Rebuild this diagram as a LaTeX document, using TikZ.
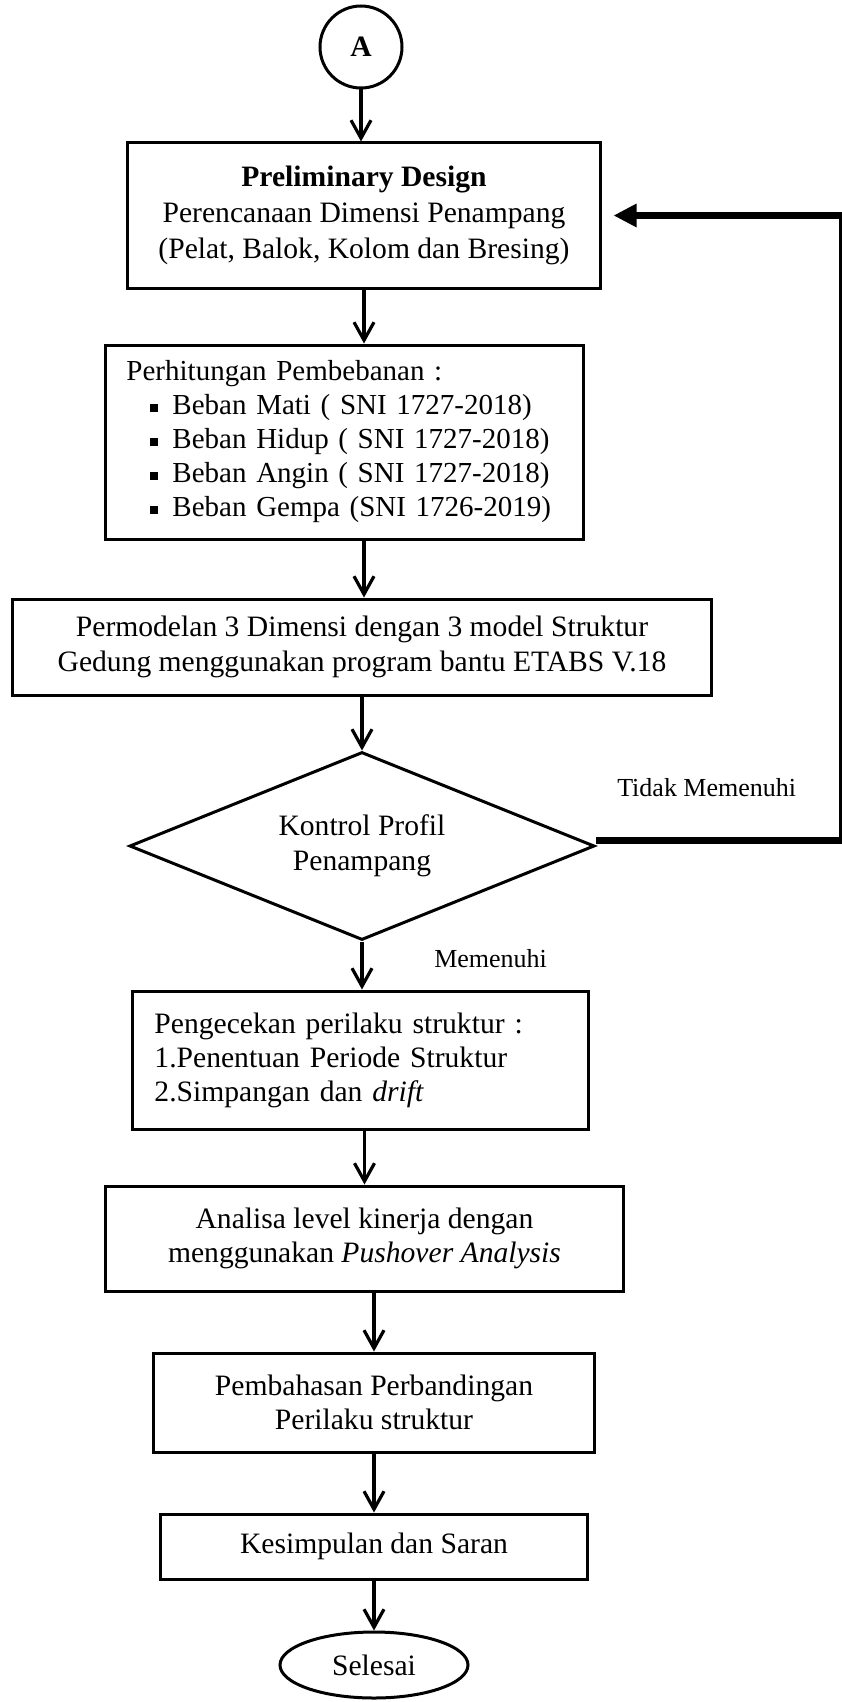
\documentclass[tikz,border=0pt]{standalone}
\usepackage{fontspec}
\setmainfont{Liberation Serif}
\usetikzlibrary{shapes.geometric,arrows.meta,positioning,calc}
\newcommand{\sqitem}{\hspace*{12pt}\rule[1.4pt]{4pt}{4pt}\hspace{7pt}}
\tikzset{
block/.style = {draw, fill=white, rectangle, line width=1.5pt, font=\fontsize{14.8}{17}\selectfont},
decision/.style = {draw, fill=white, diamond, aspect=2.47, inner sep=0pt, line width=1.5pt, align=center, font=\fontsize{14.8}{17.5}\selectfont},
term/.style = {draw, fill=white, line width=1.5pt, font=\fontsize{14.8}{17}\selectfont},
tmp/.style = {coordinate},
lbl/.style = {font=\fontsize{13}{15}\selectfont},
fb/.style = {line width=3.5pt, -{Triangle[length=11.5pt,width=11pt]}, shorten >=6pt}
}
\begin{document}
\begin{tikzpicture}[auto, >={Straight Barb[length=9pt,width=10pt]}, line width=1.6pt]
  \useasboundingbox (-180.5pt,23.5pt) rectangle (240pt,-827.5pt);
  \node [term, circle, minimum size=41pt, font=\bfseries\fontsize{14.8}{17}\selectfont] (start) {A};
  \node [block, node distance=84.25pt, below of=start, xshift=1.5pt, minimum width=236pt, minimum height=72.5pt, align=center, font=\fontsize{14.8}{18}\selectfont] (prelim)
        {\textbf{Preliminary Design}\\ Perencanaan Dimensi Penampang\\ (Pelat, Balok, Kolom dan Bresing)};
  \node [block, node distance=113.25pt, below of=prelim, xshift=-9.75pt, minimum width=238.5pt, minimum height=97pt, text width=218pt, align=left, font=\fontsize{14.5}{17}\selectfont] (beban)
        {Perhitungan Pembebanan :\\ \sqitem Beban Mati ( SNI 1727-2018)\\ \sqitem Beban Hidup ( SNI 1727-2018)\\ \sqitem Beban Angin ( SNI 1727-2018)\\ \sqitem Beban Gempa (SNI 1726-2019)};
  \node [block, node distance=102.5pt, below of=beban, xshift=8.75pt, minimum width=349pt, minimum height=48pt, align=center, font=\fontsize{14.8}{17.5}\selectfont] (model)
        {Permodelan 3 Dimensi dengan 3 model Struktur\\ Gedung menggunakan program bantu ETABS V.18};
  \node [decision, node distance=99.5pt, below of=model, minimum width=232.5pt, minimum height=94pt] (kontrol)
        {Kontrol Profil\\ Penampang};
  \node [block, node distance=107pt, below of=kontrol, xshift=-0.75pt, minimum width=228pt, minimum height=69pt, text width=206pt, align=left] (cek)
        {Pengecekan perilaku struktur :\\ 1.Penentuan Periode Struktur\\ 2.Simpangan dan \textit{drift}};
  \node [block, node distance=89.25pt, below of=cek, xshift=2pt, minimum width=259pt, minimum height=52.5pt, align=center] (analisa)
        {Analisa level kinerja dengan\\ menggunakan \textit{Pushover Analysis}};
  \node [block, node distance=82pt, below of=analisa, xshift=4.75pt, minimum width=220.5pt, minimum height=49.5pt, align=center] (bahas)
        {Pembahasan Perbandingan\\ Perilaku struktur};
  \node [block, node distance=72pt, below of=bahas, minimum width=213.5pt, minimum height=32.5pt] (simpul)
        {Kesimpulan dan Saran};
  \node [term, ellipse, node distance=59.25pt, below of=simpul, minimum width=94pt, minimum height=33pt] (selesai)
        {Selesai};
  \coordinate (tmp0) at (240.5pt,0pt);
  \coordinate [yshift=3pt] (tmp1) at (kontrol.east -| tmp0);
  \coordinate (tmp2) at (prelim.east -| tmp0);

  \draw [->] (start) -- (start |- prelim.north);
  \draw [->] (prelim) -- (prelim |- beban.north);
  \draw [->] (beban.south -| prelim) -- (model.north -| prelim);
  \draw [->] (model.south) -- (kontrol.north);
  \draw [->] (kontrol.south) -- node [lbl, right=32pt, pos=0.35] {Memenuhi} (cek.north -| kontrol.south);
  \draw [->] (cek.south -| analisa.north) -- (analisa.north);
  \draw [->] (analisa.south -| bahas.north) -- (bahas.north);
  \draw [->] (bahas) -- (simpul);
  \draw [->] (simpul) -- (selesai);
  \draw [fb] ([yshift=3pt]kontrol.east) -- node [lbl, above=16.5pt, pos=0.45] {Tidak Memenuhi} (tmp1) -- (tmp2) -- (prelim.east);
\end{tikzpicture}
\end{document}
